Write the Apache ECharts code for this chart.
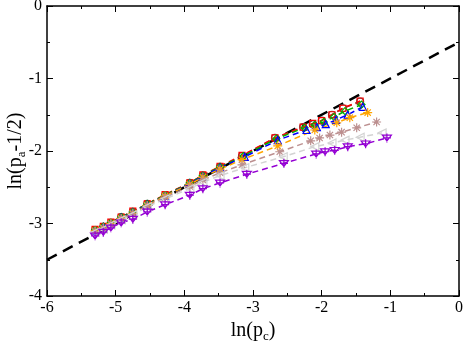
<!DOCTYPE html>
<html>
<head>
<meta charset="utf-8">
<script src="https://cdn.jsdelivr.net/npm/echarts@6/dist/echarts.min.js"></script>
<style>
  html, body { margin: 0; padding: 0; background: #fff; }
  #chart { width: 466px; height: 342px; }
</style>
</head>
<body>
<div id="chart"></div>
<script>
// x = ln(pc), y = ln(pa - 1/2)
const xHead = [-5.30, -5.18, -5.07, -4.92, -4.75, -4.54, -4.28, -3.92, -3.73, -3.48];

const blackX = xHead.concat([-3.16, -2.68, -2.27, -2.13, -2.00, -1.85, -1.69, -1.44]);
const blackY = [-3.09, -3.05, -2.99, -2.91, -2.84, -2.73, -2.61, -2.44, -2.34, -2.22, -2.07, -1.82, -1.67, -1.63, -1.58, -1.50, -1.41, -1.32];

const redX = xHead.concat([-3.16, -2.68, -2.27, -2.13, -2.00, -1.85, -1.69, -1.44]);
const redY = [-3.08, -3.04, -2.98, -2.91, -2.83, -2.73, -2.60, -2.44, -2.33, -2.21, -2.06, -1.82, -1.67, -1.62, -1.58, -1.50, -1.41, -1.31];

const greenX = xHead.concat([-3.14, -2.66, -2.25, -2.10, -1.97, -1.82, -1.66, -1.42]);
const greenY = [-3.09, -3.04, -2.99, -2.91, -2.84, -2.73, -2.61, -2.44, -2.34, -2.22, -2.07, -1.83, -1.68, -1.64, -1.60, -1.53, -1.45, -1.36];

const blueX = xHead.concat([-3.12, -2.64, -2.22, -2.07, -1.94, -1.79, -1.62, -1.40]);
const blueY = [-3.10, -3.05, -3.00, -2.92, -2.85, -2.74, -2.62, -2.45, -2.35, -2.23, -2.08, -1.85, -1.71, -1.67, -1.63, -1.57, -1.50, -1.39];

const orangeX = xHead.concat([-3.16, -2.64, -2.10, -1.78, -1.59, -1.33]);
const orangeY = [-3.10, -3.06, -3.00, -2.93, -2.86, -2.75, -2.62, -2.46, -2.36, -2.25, -2.12, -1.93, -1.71, -1.61, -1.54, -1.47];

const brownX = xHead.concat([-3.16, -2.61, -2.16, -2.03, -1.88, -1.71, -1.49, -1.20]);
const brownY = [-3.11, -3.07, -3.01, -2.94, -2.87, -2.76, -2.64, -2.49, -2.40, -2.30, -2.19, -2.01, -1.86, -1.82, -1.78, -1.74, -1.68, -1.60];

const greyX = xHead.concat([-3.12, -2.56, -2.10, -1.85, -1.66, -1.44, -1.12]);
const greyY = [-3.12, -3.08, -3.02, -2.95, -2.88, -2.77, -2.66, -2.52, -2.43, -2.34, -2.23, -2.08, -1.94, -1.89, -1.85, -1.81, -1.75];

const purpleX = xHead.concat([-3.09, -2.55, -2.08, -1.95, -1.81, -1.62, -1.36, -1.05]);
const purpleY = [-3.17, -3.12, -3.06, -2.99, -2.94, -2.84, -2.74, -2.61, -2.52, -2.44, -2.32, -2.17, -2.04, -2.01, -1.99, -1.94, -1.90, -1.82];

// guide line y = 0.5 x - 0.5
const fitX = [-6, 0];
const fitY = [-3.5, -0.5];

const xTicks = [-6, -5, -4, -3, -2, -1, 0];
const yTicks = [-4, -3, -2, -1, 0];

function pairs(xs, ys) {
  return xs.map((x, i) => [x, ys[i]]);
}

const triLeft = 'path://M-10,0L9,-10L9,10Z';
const triDownPlus = 'path://M-10,-8L10,-8L0,9Z M0,-13L0,13 M-9,0L9,0';
const asterisk = 'path://M0,-10L0,10 M-10,0L10,0 M-7,-7L7,7 M-7,7L7,-7';

function dataSeries(name, xs, ys, color, symbol, size) {
  return {
    name: name,
    type: 'line',
    data: pairs(xs, ys),
    symbol: symbol,
    symbolSize: size,
    lineStyle: { color: color, width: 1.5, type: [6, 4] },
    itemStyle: { color: 'rgba(0,0,0,0)', borderColor: color, borderWidth: 1.2 },
    z: 3
  };
}

const font = 'Liberation Serif, Times New Roman, serif';

const chart = echarts.init(document.getElementById('chart'), null, { renderer: 'canvas' });

const baseAxis = {
  type: 'value',
  interval: 1,
  axisLine: { show: true, onZero: false, lineStyle: { color: '#000', width: 1.5 } },
  axisTick: { show: true, inside: true, length: 6, lineStyle: { color: '#000' } },
  minorTick: { show: true, splitNumber: 2, length: 3, lineStyle: { color: '#000' } },
  splitLine: { show: false },
  axisLabel: { color: '#000', fontFamily: font, fontSize: 16 }
};

chart.setOption({
  animation: false,
  backgroundColor: '#fff',
  grid: { left: 47, right: 7, top: 6, bottom: 46, containLabel: false, outerBoundsMode: 'none' },
  xAxis: [
    Object.assign({}, baseAxis, {
      min: -6, max: 0, position: 'bottom',
      axisLabel: { color: '#000', fontFamily: font, fontSize: 16, margin: 4,
        formatter: v => xTicks.includes(v) ? String(v) : '' },
      name: '{m|ln(p}{s|c}{m|)}',
      nameLocation: 'middle',
      nameGap: 17,
      nameTextStyle: {
        rich: {
          m: { fontFamily: font, fontSize: 20, color: '#000' },
          s: { fontFamily: font, fontSize: 13, color: '#000', padding: [12, 0, 0, 0] }
        }
      }
    }),
    Object.assign({}, baseAxis, {
      min: -6, max: 0, position: 'top',
      axisLabel: { show: false }
    })
  ],
  yAxis: [
    Object.assign({}, baseAxis, {
      min: -4, max: 0, position: 'left',
      axisLabel: { color: '#000', fontFamily: font, fontSize: 16, margin: 5,
        formatter: v => yTicks.includes(v) ? String(v) : '' },
      name: '{m|ln(p}{s|a}{m|-1/2)}',
      nameLocation: 'middle',
      nameRotate: 90,
      nameGap: 19,
      nameMoveOverlap: false,
      nameTextStyle: {
        rich: {
          m: { fontFamily: font, fontSize: 20, color: '#000' },
          s: { fontFamily: font, fontSize: 13, color: '#000', padding: [12, 0, 0, 0] }
        }
      }
    }),
    Object.assign({}, baseAxis, {
      min: -4, max: 0, position: 'right',
      axisLabel: { show: false }
    })
  ],
  series: [
    {
      name: 'fit',
      type: 'line',
      data: pairs(fitX, fitY),
      symbol: 'none',
      lineStyle: { color: '#000', width: 2.5, type: [11, 7] },
      z: 2
    },
    dataSeries('s1', blackX, blackY, '#555555', 'circle', 7),
    dataSeries('s2', redX, redY, '#ff0000', 'rect', 6),
    dataSeries('s3', greenX, greenY, '#00b000', 'diamond', 7),
    dataSeries('s4', blueX, blueY, '#0000ff', 'triangle', 7),
    dataSeries('s5', orangeX, orangeY, '#ffa500', asterisk, 9),
    dataSeries('s6', brownX, brownY, '#bc8f8f', asterisk, 9),
    dataSeries('s7', greyX, greyY, '#d3d3d3', triLeft, 8),
    dataSeries('s8', purpleX, purpleY, '#9400d3', triDownPlus, 9)
  ]
});
</script>
</body>
</html>
